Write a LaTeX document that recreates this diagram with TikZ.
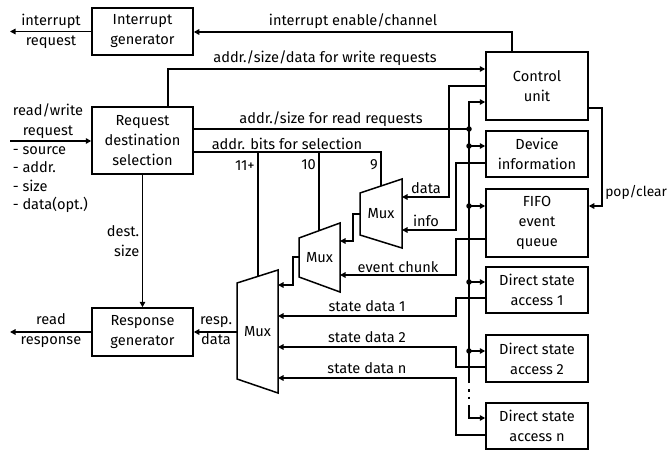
\documentclass[tikz,border=0pt]{standalone}
\usepackage{fontspec}
\setmainfont{Fira Sans}
\usetikzlibrary{arrows.meta}
\begin{document}
\begin{tikzpicture}[x=1pt,y=-1pt,line width=1.5pt,
  every node/.style={font=\fontsize{14.6}{20}\selectfont},
  blk/.style={draw,line width=1.5pt,align=center,inner sep=0pt,minimum width=101pt},
  lbl/.style={align=center,inner sep=1pt},
  arr/.style={-{Triangle[length=5.5pt,width=5.5pt]}},
  jdot/.style={circle,fill,inner sep=0pt,minimum size=5.5pt},
  muxlbl/.style={inner sep=0pt}
]
\useasboundingbox (0,0) rectangle (670,450);

% functional blocks
\node[blk,minimum height=47pt] (ig) at (142.5,31.5) {Interrupt\\generator};
\node[blk,minimum height=67pt] (rds) at (142.5,140.5) {Request\\destination\\selection};
\node[blk,minimum height=48pt] (rg) at (142.5,332) {Response\\generator};
\node[blk,minimum width=102pt,minimum height=68pt] (cu) at (537,86) {Control\\unit};
\node[blk,minimum width=102pt,minimum height=46pt] (di) at (537,154) {Device\\information};
\node[blk,minimum width=102pt,minimum height=68pt] (ff) at (537,223) {FIFO\\event\\queue};
\node[blk,minimum width=102pt,minimum height=46pt] (d1) at (537,290) {Direct state\\access 1};
\node[blk,minimum width=102pt,minimum height=47pt] (d2) at (537,358.5) {Direct state\\access 2};
\node[blk,minimum width=102pt,minimum height=46pt] (dn) at (537,426) {Direct state\\access n};

% multiplexers
\draw (360,193) -- (402,179) -- (402,248) -- (360,235) -- cycle;
\node[muxlbl] (mux1) at (381,214) {Mux};
\draw (299,238) -- (340,223) -- (340,292) -- (299,277) -- cycle;
\node[muxlbl] (mux2) at (319.5,257.5) {Mux};
\draw (237,283) -- (278,270) -- (278,393) -- (237,379) -- cycle;
\node[muxlbl] (mux3) at (257.5,331.5) {Mux};
\coordinate (m1top) at (381,186);
\coordinate (m2top) at (319,230.7);
\coordinate (m3top) at (258,276.3);
\coordinate (m1out) at (360,214);
\coordinate (m2out) at (299,257);
\coordinate (m3out) at (237,332);

% interrupt path
\draw[arr] (cu.north -| 512,0) -- (512,32) -- (ig.east |- 0,32);
\node[lbl] (lenable) at (353,21) {interrupt enable/channel};
\draw[arr] (ig.west) -- (10,31.5);
\node[lbl] (lirq) at (51,31.5) {interrupt\\request};

% incoming request
\coordinate (inreq) at (10,141);
\draw[arr] (inreq) -- (rds.west |- inreq);
\node[lbl] (lrw) at (48,121) {read/write\\request};
\node[lbl,align=left,anchor=west,font=\fontsize{14.6}{18.3}\selectfont] (lfields) at (11,179.5) {- source\\- addr.\\- size\\- data(opt.)};

% write requests to the control unit
\draw[arr] (rds.north -| 168,0) -- (168,69) -- (cu.west |- 0,69);
\node[lbl] (lwrite) at (325,58) {addr./size/data for write requests};

% read requests onto the bus
\draw (rds.east |- 0,129) -- (469,129);
\node[lbl] (lread) at (331,119) {addr./size for read requests};

% address bus to the units
\draw[arr] (469,383) -- (469,102) -- (cu.west |- 0,102);
\draw (469,389) -- (469,391.5);
\draw (469,396.5) -- (469,399);
\draw[arr] (469,405) -- (469,418) -- (dn.west |- 0,418);
\draw[arr] (469,146) -- (di.west |- 0,146);
\draw[arr] (469,206) -- (ff.west |- 0,206);
\draw[arr] (469,282) -- (d1.west |- 0,282);
\draw[arr] (469,351) -- (d2.west |- 0,351);
\foreach \y/\n in {129/a,146/b,206/c,282/d,351/e}
  \node[jdot] (j\n) at (469,\y) {};

% selection bits
\draw (rds.east |- 0,152) -- (381,152) -- (m1top);
\draw (258,152) -- (m3top);
\draw (319,152) -- (m2top);
\node[lbl] (lsel) at (287,144) {addr. bits for selection};
\node[lbl,anchor=east] (l11) at (256.5,166) {11+};
\node[lbl,anchor=east] (l10) at (317.5,165) {10};
\node[lbl,anchor=east] (l9) at (379.5,165) {9};

% inputs of the first multiplexer
\draw[arr] (cu.west) -- (449,86) -- (449,197) -- (402,197);
\node[lbl] (ldata) at (426,188) {data};
\draw[arr] (di.west |- 0,163) -- (456,163) -- (456,230) -- (402,230);
\node[lbl] (linfo) at (426,221) {info};

% multiplexer chain
\draw[arr] (m1out) -- (353,214) -- (353,241) -- (340,241);
\draw[arr] (ff.west |- 0,239) -- (456,239) -- (456,275) -- (340,275);
\node[lbl] (lchunk) at (398,267) {event chunk};
\draw[arr] (m2out) -- (293,257) -- (293,285) -- (278,285);

% direct state data
\draw[arr] (d1.west |- 0,298) -- (456,298) -- (456,316) -- (278,316);
\node[lbl] (ls1) at (367,306) {state data 1};
\draw[arr] (d2.west |- 0,367) -- (456,367) -- (456,347) -- (278,347);
\node[lbl] (ls2) at (367,337) {state data 2};
\draw[arr] (dn.west |- 0,435) -- (456,435) -- (456,378) -- (278,378);
\node[lbl] (lsn) at (367,368) {state data n};

% response path
\draw[arr] (m3out) -- (rg.east);
\node[lbl] (lresp) at (216,331) {resp.\\data};
\draw[arr] (rds.south) -- (rg.north);
\node[lbl,align=right,anchor=east] (ldest) at (141,241) {dest.\\size};
\draw[arr] (rg.west) -- (10,332);
\node[lbl] (lrr) at (51,331) {read\\response};

% FIFO control
\draw[arr] (cu.east |- 0,108) -- (602,108) -- (602,206) -- (ff.east |- 0,206);
\node[lbl,anchor=west,inner sep=0pt,font=\fontsize{13.8}{18}\selectfont] (lpop) at (604.5,192) {pop/clear};
\end{tikzpicture}
\end{document}
